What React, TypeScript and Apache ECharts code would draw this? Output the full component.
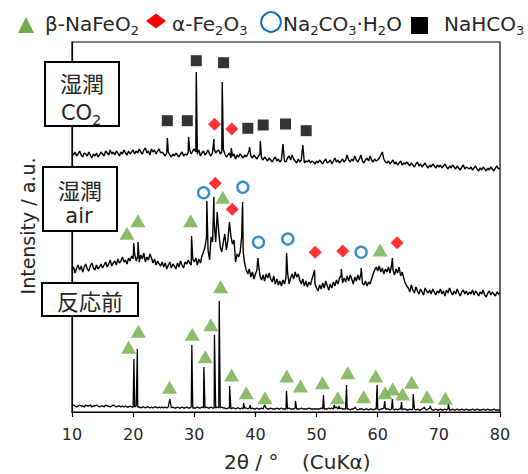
import React, { useEffect, useRef } from "react";
import * as echarts from "echarts";

// x grid of the scanned baselines: 10° .. 80° every 0.25°
const X_START = 10;
const X_STEP = 0.25;

// ---- 湿潤 CO2 trace (intensity in arbitrary units, stacked offset included)
const co2Baseline = [
  259, 257, 260, 256, 258, 261, 257, 255, 259, 258, 256, 260, 257, 254, 258, 256, 259, 255, 257, 260,
  258, 256, 261, 259, 257, 262, 258, 260, 257, 261, 259, 256, 260, 258, 262, 259, 257, 261, 258, 260,
  262, 258, 261, 259, 263, 260, 258, 262, 264, 259, 261, 257, 263, 260, 262, 258, 261, 263, 259, 260,
  258, 256, 259, 260, 257, 255, 258, 256, 259, 257, 255, 258, 260, 256, 258, 257, 259, 262, 258, 261,
  263, 260, 258, 262, 256, 259, 261, 257, 259, 262, 258, 256, 260, 263, 259, 261, 262, 258, 260, 263,
  258, 255, 257, 259, 254, 256, 258, 253, 257, 255, 258, 256, 254, 257, 255, 258, 262, 256, 254, 257,
  255, 253, 256, 258, 254, 252, 255, 253, 251, 254, 252, 250, 253, 255, 251, 253, 250, 252, 254, 251,
  250, 254, 256, 252, 257, 253, 251, 249, 253, 250, 252, 254, 249, 251, 250, 252, 249, 251, 250, 248,
  251, 249, 252, 250, 248, 251, 253, 249, 250, 252, 248, 251, 254, 250, 252, 249, 251, 253, 250, 252,
  257, 252, 250, 253, 251, 256, 252, 250, 253, 257, 251, 249, 252, 254, 251, 256, 252, 250, 253, 251,
  252, 254, 257, 260, 253, 250, 249, 251, 248, 250, 252, 248, 250, 247, 249, 251, 247, 249, 248, 250,
  248, 246, 249, 247, 245, 248, 250, 246, 248, 245, 247, 249, 246, 244, 247, 245, 248, 246, 244, 247,
  245, 247, 244, 246, 248, 245, 243, 246, 244, 247, 245, 243, 246, 244, 242, 245, 247, 243, 245, 244,
  243, 245, 242, 244, 246, 243, 241, 244, 242, 245, 243, 241, 244, 242, 245, 243, 241, 244, 246, 243,
  244,
];
const co2Peaks = [
  [25.6, 274], [29.07, 275], [30.33, 340], [33.2, 273], [34.57, 330], [36.05, 264],
  [39.04, 265], [40.8, 271], [44.5, 268], [47.75, 267],
];

// ---- 湿潤 air trace
const airBaseline = [
  141, 145, 139, 144, 147, 142, 146, 140, 145, 148, 143, 141, 146, 149, 144, 142, 147, 143, 145, 148,
  144, 147, 150, 145, 148, 152, 146, 149, 151, 147, 153, 149, 151, 155, 150, 152, 148, 154, 151, 156,
  153, 158, 151, 156, 150, 157, 153, 159, 150, 155, 152, 158, 154, 149, 153, 147, 151, 148, 146, 150,
  145, 149, 143, 147, 150, 144, 148, 146, 143, 149, 145, 151, 147, 144, 150, 148, 152, 149, 147, 153,
  150, 154, 147, 153, 149, 156, 160, 165, 175, 162, 152, 175, 170, 190, 170, 200, 180, 165, 160, 170,
  178, 162, 172, 190, 175, 168, 172, 150, 158, 155, 160, 175, 160, 148, 142, 138, 143, 135, 140, 133,
  138, 142, 148, 136, 132, 137, 131, 138, 134, 139, 133, 130, 136, 128, 133, 127, 131, 126, 132, 128,
  135, 140, 128, 134, 138, 133, 140, 135, 138, 132, 128, 133, 126, 131, 125, 130, 127, 133, 138, 128,
  124, 121, 127, 123, 129, 124, 131, 126, 122, 128, 124, 130, 126, 132, 128, 134, 136, 129, 134, 130,
  136, 131, 137, 133, 128, 135, 131, 137, 132, 138, 129, 127, 131, 126, 130, 128, 133, 138, 142, 145,
  141, 146, 140, 144, 138, 143, 140, 145, 139, 146, 142, 137, 143, 139, 145, 136, 140, 134, 129, 126,
  124, 120, 127, 122, 119, 125, 121, 118, 123, 120, 117, 124, 121, 119, 122, 118, 123, 120, 117, 121,
  119, 123, 118, 121, 116, 122, 119, 124, 120, 117, 121, 118, 123, 119, 116, 120, 122, 118, 121, 117,
  120, 118, 122, 117, 121, 119, 116, 120, 118, 122, 117, 115, 119, 121, 117, 120, 118, 116, 120, 118,
  119,
];
const airPeaks = [
  [20.1, 169], [20.8, 170], [29.55, 176], [32.05, 211], [33.2, 215], [37.9, 210],
  [40.4, 154], [45.1, 159], [49.66, 142], [54.05, 143], [57.3, 144], [62.4, 154],
];

// ---- 反応前 trace
const preBaseline = [
  6, 7, 6, 5, 6, 7, 6, 6, 5, 7, 6, 6, 7, 5, 6, 6, 7, 6, 5, 6,
  6, 5, 7, 6, 6, 5, 6, 7, 6, 5, 6, 6, 5, 6, 5, 6, 5, 5, 6, 5,
  5, 5, 6, 5, 5, 4, 5, 5, 4, 5, 5, 4, 5, 4, 5, 5, 4, 5, 4, 5,
  4, 5, 4, 5, 4, 4, 5, 4, 4, 5, 4, 4, 5, 4, 4, 5, 4, 4, 5, 4,
  4, 4, 5, 4, 4, 5, 4, 4, 5, 4, 4, 5, 4, 4, 4, 5, 4, 4, 5, 4,
  4, 3, 4, 4, 3, 4, 4, 3, 4, 4, 3, 4, 3, 4, 4, 3, 4, 3, 4, 3,
  3, 4, 3, 3, 4, 3, 3, 4, 3, 3, 4, 3, 3, 3, 4, 3, 3, 4, 3, 3,
  3, 3, 4, 3, 3, 3, 4, 3, 3, 3, 4, 3, 3, 3, 3, 4, 3, 3, 3, 3,
  3, 3, 3, 4, 3, 3, 3, 3, 4, 3, 4, 3, 4, 5, 3, 3, 4, 3, 3, 3,
  3, 3, 2, 3, 3, 4, 3, 2, 3, 3, 3, 2, 3, 3, 2, 3, 3, 2, 3, 3,
  3, 2, 3, 3, 4, 3, 3, 3, 2, 3, 3, 2, 3, 2, 3, 3, 2, 3, 3, 2,
  2, 3, 2, 3, 3, 2, 3, 2, 2, 3, 4, 3, 2, 3, 4, 3, 2, 2, 3, 2,
  2, 3, 2, 2, 3, 2, 3, 2, 2, 3, 2, 2, 3, 2, 2, 3, 2, 2, 3, 2,
  2, 2, 3, 2, 2, 3, 2, 2, 2, 3, 2, 2, 3, 2, 2, 2, 3, 2, 2, 2,
  2,
];
const prePeaks = [
  [20.13, 53], [20.69, 63], [26.0, 13], [29.6, 67], [31.57, 45], [33.3, 77], [34.08, 111],
  [35.77, 26], [38.05, 9], [39.15, 7], [41.5, 7], [45.08, 21], [46.55, 11], [51.13, 17],
  [52.9, 7], [53.7, 6], [54.9, 27], [56.3, 5], [59.9, 27], [61.15, 11], [62.4, 13],
  [63.9, 10], [65.8, 18], [67.6, 5], [68.6, 6], [71.55, 8],
];

// ---- phase markers [2θ, height]
const naFeO2Marks = [
  [19.26, 64.7], [20.85, 80.7], [25.96, 24.7], [29.67, 77.7], [31.8, 55.3], [32.7, 87.3],
  [34.3, 125.3], [36.1, 37], [38.5, 19.3], [41.57, 14.3], [45.13, 36], [47.37, 26],
  [50.97, 29.3], [53.46, 14.3], [55.1, 39.3], [57.7, 15.3], [59.67, 36], [61.2, 19.3],
  [62.45, 23], [64.08, 18], [65.56, 29.7], [68.07, 15.3], [71.06, 13.7],
  [18.99, 178.7], [20.78, 191.3], [29.4, 191.3], [34.67, 214.7], [60.39, 162],
];
const fe2O3Marks = [
  [33.43, 228.7], [36.21, 202.7], [49.77, 159.7], [54.28, 161], [63.17, 169.3],
  [33.32, 287.7], [36.14, 283],
];
const na2CO3Marks = [
  [31.52, 219.3], [37.94, 224.7], [40.5, 169.7], [45.3, 173], [57.29, 159.7],
];
const naHCO3Marks = [
  [25.59, 291.3], [28.86, 291.3], [30.33, 351.3], [34.79, 349.3], [38.76, 283.7],
  [41.27, 287], [44.92, 288], [48.3, 281.3],
];

const xTicks = [10, 20, 30, 40, 50, 60, 70, 80];

function buildTrace(baseline: number[], peaks: number[][]) {
  const pts = baseline
    .map((v, i) => [X_START + i * X_STEP, v])
    .filter((p) => !peaks.some((q) => Math.abs(q[0] - p[0]) < 0.01));
  return pts.concat(peaks.map((p) => [p[0], p[1]])).sort((a, b) => a[0] - b[0]);
}

const LATIN = "'DejaVu Sans', 'Noto Sans', sans-serif";
const CJK = "'Noto Sans CJK JP', 'Noto Sans', sans-serif";
const TXT = "#262626";

function richText(x: number, y: number, text: string, size: number, subSize: number, align = "left", family = LATIN) {
  return {
    type: "text",
    x,
    y,
    z: 110,
    style: {
      text,
      align,
      verticalAlign: "middle",
      fill: TXT,
      fontFamily: family,
      fontSize: size,
      rich: {
        n: { fontSize: size, fontFamily: family, fill: TXT, lineHeight: size + 6, verticalAlign: "middle" },
        s: { fontSize: subSize, fontFamily: family, fill: TXT, lineHeight: subSize, verticalAlign: "bottom" },
      },
    },
  };
}

export default function App() {
  const ref = useRef<HTMLDivElement>(null);
  useEffect(() => {
    if (!ref.current) return;
    const chart = echarts.init(ref.current, null, { renderer: "svg" });
    const lineSeries = (name: string, data: number[][], width: number) => ({
      name,
      type: "line",
      data,
      showSymbol: false,
      symbol: "none",
      lineStyle: { color: "#000", width },
      z: 2,
    });
    const markSeries = (name: string, data: number[][], symbol: string, size: any, style: any) => ({
      name,
      type: "scatter",
      data,
      symbol,
      symbolSize: size,
      itemStyle: style,
      z: 5,
    });
    chart.setOption({
      animation: false,
      backgroundColor: "#fff",
      grid: {
        left: 72,
        right: 28,
        top: 42,
        bottom: 62,
        show: true,
        borderColor: "#000",
        borderWidth: 1.2,
        backgroundColor: "transparent",
      },
      xAxis: {
        type: "value",
        min: 10,
        max: 80,
        interval: 10,
        axisLine: { show: true, lineStyle: { color: "#000", width: 1.2 } },
        axisTick: { show: true, length: 5, lineStyle: { color: "#000", width: 1.2 } },
        axisLabel: {
          margin: 14,
          fontSize: 16,
          fontFamily: LATIN,
          color: TXT,
          customValues: xTicks,
        },
        splitLine: { show: false },
      },
      yAxis: {
        type: "value",
        min: 0,
        max: 370,
        axisLine: { show: true, lineStyle: { color: "#000", width: 1.2 } },
        axisTick: { show: false },
        axisLabel: { show: false },
        splitLine: { show: false },
      },
      series: [
        lineSeries("湿潤 CO2", buildTrace(co2Baseline, co2Peaks), 1.4),
        lineSeries("湿潤 air", buildTrace(airBaseline, airPeaks), 1.4),
        lineSeries("反応前", buildTrace(preBaseline, prePeaks), 1.3),
        markSeries("β-NaFeO2", naFeO2Marks, "triangle", [15, 13], { color: "#70AD47" }),
        markSeries("α-Fe2O3", fe2O3Marks, "diamond", [13, 13], { color: "#FF0000" }),
        markSeries("Na2CO3·H2O", na2CO3Marks, "circle", 11, {
          color: "#fff",
          borderColor: "#0070C0",
          borderWidth: 2.4,
        }),
        markSeries("NaHCO3", naHCO3Marks, "rect", 11, { color: "#000" }),
      ],
      graphic: [
        // legend
        {
          type: "polygon",
          z: 110,
          shape: { points: [[18, 33], [34, 33], [26, 17]] },
          style: { fill: "#70AD47" },
        },
        richText(45, 24, "{n|β-NaFeO}{s|2}", 20, 13),
        {
          type: "polygon",
          z: 110,
          shape: { points: [[146, 21], [156, 13.5], [166, 21], [156, 28.5]] },
          style: { fill: "#FF0000" },
        },
        richText(172, 24, "{n|α-Fe}{s|2}{n|O}{s|3}", 20, 13),
        {
          type: "circle",
          z: 110,
          shape: { cx: 271, cy: 22, r: 9.8 },
          style: { fill: "#fff", stroke: "#0070C0", lineWidth: 2 },
        },
        richText(283, 24, "{n|Na}{s|2}{n|CO}{s|3}{n|·H}{s|2}{n|O}", 20, 13),
        {
          type: "rect",
          z: 110,
          shape: { x: 411, y: 17, width: 17, height: 17 },
          style: { fill: "#000" },
        },
        richText(444, 24, "{n|NaHCO}{s|3}", 20, 13),
        // sample label boxes
        {
          type: "rect",
          z: 100,
          shape: { x: 45, y: 62, width: 74, height: 64 },
          style: { fill: "#fff", stroke: "#000", lineWidth: 2 },
        },
        {
          type: "text",
          z: 110,
          x: 82,
          y: 82,
          style: { text: "湿潤", align: "center", verticalAlign: "middle", fontSize: 22, fontFamily: CJK, fill: TXT },
        },
        richText(81, 113, "{n|CO}{s|2}", 21, 14, "center"),
        {
          type: "rect",
          z: 100,
          shape: { x: 43, y: 167, width: 74, height: 64 },
          style: { fill: "#fff", stroke: "#000", lineWidth: 2 },
        },
        {
          type: "text",
          z: 110,
          x: 80,
          y: 189,
          style: { text: "湿潤", align: "center", verticalAlign: "middle", fontSize: 22, fontFamily: CJK, fill: TXT },
        },
        {
          type: "text",
          z: 110,
          x: 79,
          y: 216,
          style: { text: "air", align: "center", verticalAlign: "middle", fontSize: 21, fontFamily: LATIN, fill: TXT },
        },
        {
          type: "rect",
          z: 100,
          shape: { x: 42, y: 283, width: 96, height: 33 },
          style: { fill: "#fff", stroke: "#000", lineWidth: 2 },
        },
        {
          type: "text",
          z: 110,
          x: 90,
          y: 300,
          style: { text: "反応前", align: "center", verticalAlign: "middle", fontSize: 22, fontFamily: CJK, fill: TXT },
        },
        // axis names
        {
          type: "text",
          z: 110,
          x: 28,
          y: 226,
          rotation: Math.PI / 2,
          style: {
            text: "Intensity / a.u.",
            align: "center",
            verticalAlign: "middle",
            fontSize: 19,
            fontFamily: LATIN,
            fill: TXT,
          },
        },
        {
          type: "text",
          z: 110,
          x: 224,
          y: 462,
          style: { text: "2θ / °", align: "left", verticalAlign: "middle", fontSize: 20, fontFamily: LATIN, fill: TXT },
        },
        {
          type: "text",
          z: 110,
          x: 302,
          y: 462,
          style: { text: "(CuKα)", align: "left", verticalAlign: "middle", fontSize: 20, fontFamily: LATIN, fill: TXT },
        },
      ],
    });
    return () => chart.dispose();
  }, []);
  return <div ref={ref} style={{ width: 528, height: 474, position: "absolute", left: 0, top: 0 }} />;
}
